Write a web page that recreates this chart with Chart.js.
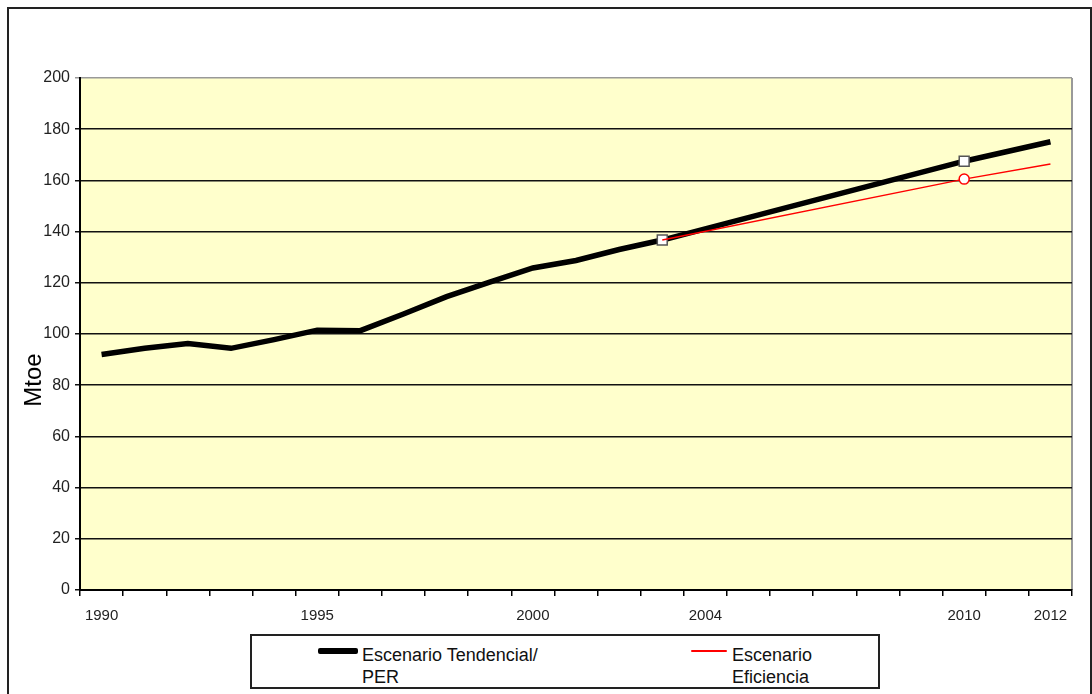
<!DOCTYPE html>
<html>
<head>
<meta charset="utf-8">
<script src="https://cdn.jsdelivr.net/npm/chart.js@4.4.0/dist/chart.umd.min.js"></script>
<style>
    body { margin: 0; background: #fff; font-family: "Liberation Sans", Arial, sans-serif; }
    #wrap { position: relative; width: 1092px; height: 694px; overflow: hidden; }
    #chart { position: absolute; left: 0; top: 0; }
    #frame {
        position: absolute; left: 7px; top: 7px; width: 1081px; height: 700px;
        border: 2px solid #222; border-bottom: none;
    }
    #legend {
        position: absolute; left: 250px; top: 634px; width: 626px; height: 51px;
        border: 2px solid #222; background: #fff;
    }
    .item { position: absolute; top: 8px; font-size: 18px; line-height: 22px; color: #111; }
    .swatch { position: absolute; }
</style>
</head>
<body>
<div id="wrap">
    <div id="frame"></div>
    <canvas id="chart" width="1092" height="694"></canvas>
    <div id="legend"></div>
</div>
<script>
const years = ['1990', '1991', '1992', '1993', '1994', '1995', '1996', '1997', '1998', '1999', '2000',
    '2001', '2002', '2003', '2004', '2005', '2006', '2007', '2008', '2009', '2010', '2011', '2012'];
const shownYears = ['1990', '1995', '2000', '2004', '2010', '2012'];

// historic data to 2003, then projections for 2010 and 2012 only
const tendencial = [92, 94.4, 96.3, 94.4, 97.8, 101.5, 101.3, 107.8, 114.6, 120.3, 125.8,
    128.7, 133, 136.7, null, null, null, null, null, null, 167.5, null, 175.1];
const eficiencia = [null, null, null, null, null, null, null, null, null, null, null,
    null, null, 136.7, null, null, null, null, null, null, 160.5, null, 166.4];

const tendencialMarkers = ['2003', '2010'];
const eficienciaMarkers = ['2010'];

Chart.defaults.font.family = '"Liberation Sans", Arial, sans-serif';
Chart.defaults.color = '#222';

const plotBackground = {
    id: 'plotBackground',
    beforeDraw (chart) {
        const { ctx, chartArea: area } = chart;
        ctx.save();
        ctx.fillStyle = '#ffffcc';
        ctx.fillRect(area.left, area.top, area.right - area.left, area.bottom - area.top);
        ctx.strokeStyle = '#999';
        ctx.lineWidth = 2;
        ctx.beginPath();
        ctx.moveTo(area.right, area.top);
        ctx.lineTo(area.right, area.bottom);
        ctx.stroke();
        ctx.restore();
    }
};

// y axis title sits lower than the middle in the original
const axisLabel = {
    id: 'axisLabel',
    afterDraw (chart) {
        const { ctx } = chart;
        ctx.save();
        ctx.translate(34, 380);
        ctx.rotate(-Math.PI / 2);
        ctx.font = '24px "Liberation Sans", Arial, sans-serif';
        ctx.fillStyle = '#000';
        ctx.textAlign = 'center';
        ctx.textBaseline = 'middle';
        ctx.fillText('Mtoe', 0, 0);
        ctx.restore();
    }
};

const chart = new Chart(document.getElementById('chart'), {
    type: 'line',
    data: {
        labels: years,
        datasets: [
            {
                label: ['Escenario Tendencial/', 'PER'],
                data: tendencial,
                borderColor: '#000',
                borderWidth: 5.5,
                spanGaps: true,
                tension: 0,
                order: 2,
                pointStyle: 'rect',
                pointRadius: ctx => tendencialMarkers.includes(years[ctx.dataIndex]) ? 7 : 0,
                pointBackgroundColor: '#fff',
                pointBorderColor: '#555',
                pointBorderWidth: 1.5
            },
            {
                label: ['Escenario', 'Eficiencia'],
                data: eficiencia,
                borderColor: '#ff0000',
                borderWidth: 1.5,
                spanGaps: true,
                tension: 0,
                order: 1,
                pointStyle: 'circle',
                pointRadius: ctx => eficienciaMarkers.includes(years[ctx.dataIndex]) ? 5 : 0,
                pointBackgroundColor: '#fff',
                pointBorderColor: '#ff0000',
                pointBorderWidth: 1.5
            }
        ]
    },
    options: {
        responsive: false,
        animation: false,
        layout: {
            padding: { left: 8, top: 78, right: 20, bottom: 0 }
        },
        plugins: {
            legend: { display: false },
            tooltip: { enabled: false }
        },
        scales: {
            x: {
                type: 'category',
                offset: true,
                afterFit: scale => { scale.height = 104; },
                grid: {
                    offset: true,
                    drawOnChartArea: false,
                    drawTicks: true,
                    tickLength: 6,
                    color: '#000',
                    lineWidth: 1.5
                },
                border: { color: '#000', width: 2 },
                ticks: {
                    autoSkip: false,
                    maxRotation: 0,
                    padding: 11,
                    font: { size: 15 },
                    callback: (value, index) => shownYears.includes(years[index]) ? years[index] : ''
                }
            },
            y: {
                min: 0,
                max: 200,
                afterFit: scale => { scale.width = 72; },
                grid: {
                    color: ctx => ctx.tick && ctx.tick.value === 200 ? '#999' : '#111',
                    lineWidth: 1.5,
                    tickLength: 5
                },
                border: { color: '#000', width: 2 },
                ticks: {
                    stepSize: 20,
                    padding: 5,
                    font: { size: 16 }
                }
            }
        }
    },
    plugins: [plotBackground, axisLabel]
});

// legend laid out like the original boxed legend, with two-line labels
const legendSlots = [
    { swatchLeft: 66, swatchWidth: 40, textLeft: 110 },
    { swatchLeft: 439, swatchWidth: 36, textLeft: 480 }
];
const legend = document.getElementById('legend');
chart.data.datasets.forEach((ds, i) => {
    const slot = legendSlots[i];
    const swatch = document.createElement('div');
    swatch.className = 'swatch';
    swatch.style.left = slot.swatchLeft + 'px';
    swatch.style.width = slot.swatchWidth + 'px';
    swatch.style.height = ds.borderWidth + 'px';
    swatch.style.top = (15 - ds.borderWidth / 2) + 'px';
    swatch.style.background = ds.borderColor;
    swatch.style.borderRadius = '2px';
    legend.appendChild(swatch);

    const text = document.createElement('div');
    text.className = 'item';
    text.style.left = slot.textLeft + 'px';
    text.innerHTML = ds.label.join('<br>');
    legend.appendChild(text);
});
</script>
</body>
</html>
